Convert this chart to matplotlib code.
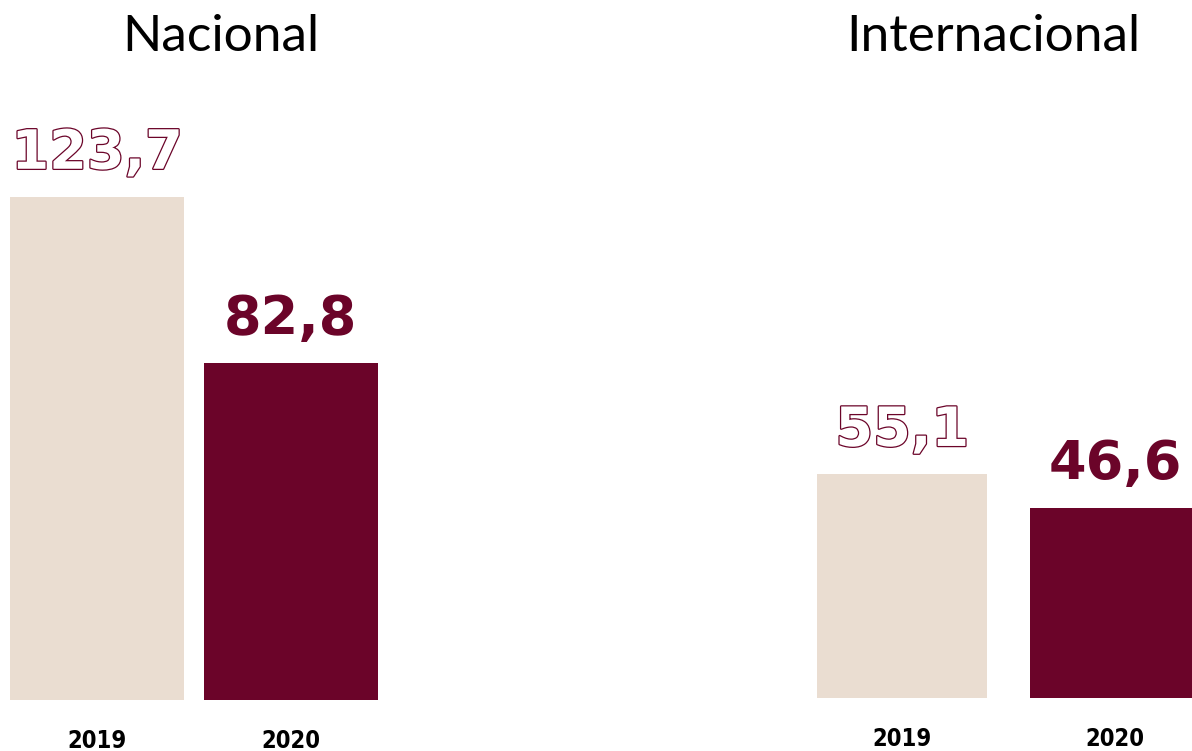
import matplotlib
matplotlib.use("Agg")
import matplotlib.pyplot as plt
import matplotlib.patheffects as pe

# Datos
anios = ["2019", "2020"]
nacional = [123.7, 82.8]
internacional = [55.1, 46.6]
etiquetas_nac = ["123,7", "82,8"]
etiquetas_int = ["55,1", "46,6"]

beige = "#EADDD1"
granate = "#6B0429"

W, H = 1192, 751
fig = plt.figure(figsize=(W / 100, H / 100), dpi=100)

px_por_unidad = 4.07
ymax = 150


def panel(izq, der, abajo, ancho_barra, paso, valores, etiquetas, titulo, titulo_x):
    # ejes colocados en píxeles de la figura
    alto = ymax * px_por_unidad
    ax = fig.add_axes([izq / W, (H - abajo) / H, (der - izq) / W, alto / H])
    x = [0, 1]
    ax.bar(x, valores, width=ancho_barra, color=[beige, granate])
    x0 = -ancho_barra / 2
    ax.set_xlim(x0, x0 + (der - izq) / paso)
    ax.set_ylim(0, ymax)
    for s in ax.spines.values():
        s.set_visible(False)
    ax.set_yticks([])
    ax.set_xticks(x)
    ax.set_xticklabels(anios, fontsize=17, fontweight="heavy",
                       fontfamily="DejaVu Sans", fontstretch="condensed")
    ax.tick_params(axis="x", length=0, pad=21)

    for i, (v, t) in enumerate(zip(valores, etiquetas)):
        if i == 0:
            # 2019: número solo con contorno
            ax.annotate(t, (x[i], v), xytext=(0, 20), textcoords="offset points",
                        ha="center", va="baseline", fontsize=39, fontweight="bold",
                        color="white",
                        path_effects=[pe.Stroke(linewidth=1.8, foreground=granate),
                                      pe.Normal()])
        else:
            ax.annotate(t, (x[i], v), xytext=(0, 21), textcoords="offset points",
                        ha="center", va="baseline", fontsize=39, fontweight="bold",
                        color=granate)

    fig.text(titulo_x / W, 1 - 37 / H, titulo, ha="center", va="center",
             fontsize=37, fontfamily="Lato", color="black")
    return ax


panel(10, 378, 700, 0.9, 193.5, nacional, etiquetas_nac, "Nacional", 221)
panel(817, 1192, 698, 0.8, 213, internacional, etiquetas_int, "Internacional", 993)

fig.savefig("out.png", dpi=100)
